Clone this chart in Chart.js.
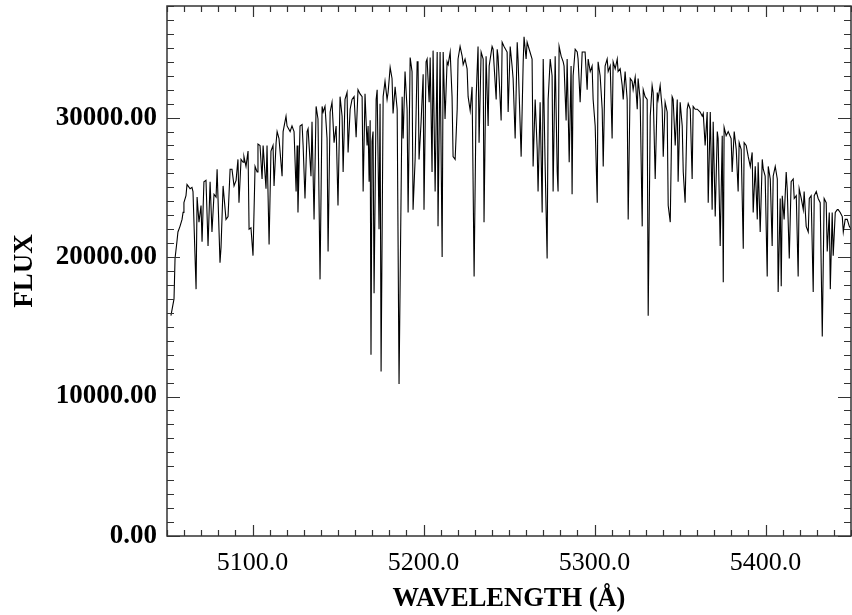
<!DOCTYPE html>
<html>
<head>
<meta charset="utf-8">
<title>Flux vs wavelength</title>
<script src="https://cdn.jsdelivr.net/npm/chart.js@4/dist/chart.umd.min.js"></script>
<style>
  html, body { margin: 0; padding: 0; background: #fff; }
  #wrap { width: 852px; height: 615px; }
</style>
</head>
<body>
<div id="wrap"><canvas id="spectrum" width="852" height="615"></canvas></div>
<script>
// wavelength (Angstrom) and flux of the spectrum, in order
const wavelength = [
  5052.3, 5054.1, 5054.7, 5055.8, 5056.4, 5057.6, 5058.8, 5059.4, 5059.9, 5061.1,
  5061.7, 5062.3, 5063.5, 5064.6, 5065.2, 5067.0, 5067.6, 5068.7, 5069.9, 5070.5,
  5071.6, 5072.8, 5074.0, 5075.2, 5076.3, 5077.5, 5078.7, 5079.3, 5081.0, 5081.6,
  5082.8, 5084.5, 5085.7, 5086.9, 5088.0, 5089.2, 5090.4, 5091.5, 5092.1, 5093.3,
  5094.5, 5095.0, 5096.2, 5097.4, 5098.0, 5099.1, 5100.3, 5101.5, 5102.7, 5103.2,
  5104.4, 5105.6, 5106.2, 5107.9, 5108.5, 5109.7, 5110.8, 5112.0, 5112.6, 5113.8,
  5114.4, 5115.5, 5117.3, 5117.9, 5119.6, 5120.2, 5122.0, 5123.1, 5124.3, 5125.5,
  5126.1, 5126.6, 5127.8, 5129.0, 5129.6, 5130.7, 5131.9, 5132.5, 5134.2, 5134.8,
  5136.0, 5137.2, 5138.3, 5139.5, 5140.7, 5141.3, 5142.4, 5143.6, 5144.2, 5145.4,
  5146.5, 5147.7, 5148.9, 5150.0, 5151.2, 5152.4, 5153.0, 5154.1, 5155.3, 5155.9,
  5157.1, 5158.2, 5159.4, 5160.6, 5161.7, 5162.9, 5164.1, 5164.7, 5165.8, 5167.0,
  5167.6, 5168.2, 5168.8, 5169.3, 5169.9, 5170.5, 5171.1, 5172.3, 5172.9, 5174.0,
  5174.6, 5175.2, 5176.4, 5177.5, 5178.7, 5179.3, 5180.5, 5181.6, 5182.2, 5183.4,
  5184.6, 5185.7, 5187.5, 5188.1, 5189.2, 5190.4, 5191.0, 5192.2, 5193.3, 5193.9,
  5195.1, 5196.3, 5196.8, 5197.4, 5198.6, 5199.8, 5200.3, 5201.5, 5202.1, 5203.3,
  5203.9, 5205.0, 5205.6, 5206.8, 5208.0, 5208.5, 5209.7, 5210.9, 5211.5, 5212.6,
  5213.8, 5214.4, 5215.6, 5216.7, 5217.3, 5218.5, 5219.7, 5220.2, 5221.4, 5222.6,
  5223.2, 5224.3, 5225.5, 5226.1, 5227.3, 5228.4, 5229.6, 5230.8, 5231.9, 5232.5,
  5233.7, 5234.9, 5235.4, 5236.6, 5237.8, 5238.4, 5240.1, 5240.7, 5242.5, 5243.1,
  5243.6, 5245.4, 5246.0, 5247.1, 5248.9, 5249.5, 5250.7, 5251.8, 5252.4, 5253.6,
  5254.8, 5255.3, 5257.1, 5258.3, 5258.8, 5260.0, 5260.6, 5261.8, 5263.5, 5264.1,
  5265.3, 5266.5, 5267.0, 5268.2, 5269.4, 5270.0, 5271.1, 5272.3, 5272.9, 5274.1,
  5275.2, 5275.8, 5277.0, 5278.2, 5278.7, 5279.3, 5280.5, 5281.7, 5282.2, 5283.4,
  5284.0, 5285.2, 5286.3, 5286.9, 5287.5, 5288.7, 5289.9, 5290.4, 5291.6, 5292.8,
  5294.5, 5295.7, 5296.3, 5297.5, 5298.6, 5299.2, 5300.4, 5301.6, 5302.1, 5303.3,
  5304.5, 5305.1, 5306.2, 5307.4, 5308.0, 5309.2, 5310.3, 5310.9, 5312.1, 5313.3,
  5313.8, 5315.0, 5316.2, 5316.8, 5317.9, 5319.1, 5319.7, 5320.9, 5322.0, 5322.6,
  5323.8, 5325.0, 5325.5, 5326.7, 5327.9, 5328.5, 5329.6, 5330.8, 5331.4, 5332.6,
  5333.7, 5334.3, 5335.5, 5336.7, 5337.2, 5338.4, 5339.6, 5340.2, 5341.3, 5342.5,
  5343.1, 5344.3, 5345.4, 5346.0, 5347.2, 5348.4, 5348.9, 5350.1, 5351.3, 5351.9,
  5353.0, 5354.2, 5354.8, 5356.0, 5357.1, 5357.7, 5358.9, 5360.1, 5361.8, 5363.0,
  5363.6, 5364.7, 5365.9, 5366.5, 5367.7, 5368.8, 5369.4, 5370.6, 5371.8, 5372.3,
  5373.5, 5374.7, 5375.3, 5375.8, 5377.0, 5378.2, 5379.9, 5380.5, 5381.7, 5382.9,
  5384.0, 5384.6, 5385.8, 5387.0, 5387.5, 5388.7, 5389.9, 5391.1, 5392.2, 5392.8,
  5394.0, 5395.2, 5395.7, 5396.9, 5398.1, 5398.7, 5399.8, 5401.0, 5401.6, 5402.8,
  5403.9, 5404.5, 5405.7, 5406.9, 5407.4, 5408.6, 5409.2, 5409.8, 5410.9, 5412.1,
  5412.7, 5413.9, 5415.0, 5416.2, 5416.8, 5418.0, 5419.1, 5419.7, 5420.9, 5422.1,
  5422.6, 5423.8, 5425.0, 5425.6, 5426.7, 5427.9, 5428.5, 5429.7, 5430.8, 5432.0,
  5433.2, 5434.3, 5435.5, 5436.1, 5437.3, 5437.9, 5439.0, 5439.6, 5440.8, 5442.0,
  5442.5, 5443.7, 5444.9, 5445.5, 5446.6, 5447.8, 5449.0, 5450.1
];

const flux = [
  15800, 17000, 19900, 21100, 21800, 22200, 22700, 23200, 23900, 24400,
  25200, 25100, 24900, 25000, 24700, 17700, 24300, 22500, 23700, 21100,
  25400, 25500, 20800, 25400, 21800, 24500, 24300, 26300, 19600, 20700,
  25100, 22700, 22900, 26300, 26300, 25100, 25500, 27000, 23900, 27000,
  26800, 27200, 26500, 27600, 22000, 22100, 20100, 26500, 26100, 28100,
  28000, 25600, 28000, 24900, 28000, 20900, 27600, 28000, 25100, 28200,
  29000, 28500, 25800, 29000, 30100, 29400, 29000, 29400, 29000, 24700,
  28000, 23200, 29400, 29500, 28000, 24200, 29000, 29200, 25800, 29700,
  22700, 30800, 29900, 18400, 30800, 30400, 30800, 28500, 20400, 30400,
  31100, 28200, 29400, 23700, 31500, 30100, 26100, 31300, 31800, 27500,
  30600, 31300, 31500, 28600, 32000, 31700, 31500, 24700, 31700, 28000,
  29400, 25400, 29800, 13000, 28300, 29000, 17400, 31300, 32000, 22000,
  31000, 11800, 31500, 32600, 31300, 31800, 33600, 32800, 30300, 32200,
  30600, 10900, 31500, 28500, 33300, 30600, 23200, 34300, 33300, 23400,
  27000, 34000, 34000, 27000, 29700, 33100, 23400, 34000, 34200, 31100,
  34300, 26100, 34800, 24700, 34700, 22200, 34700, 20000, 34700, 29900,
  34000, 33800, 34700, 31500, 27200, 27000, 30600, 34200, 35100, 34400,
  33800, 34200, 33500, 31500, 30500, 32200, 18600, 31500, 35100, 28200,
  34700, 34200, 22500, 34400, 29400, 33700, 35100, 34900, 31300, 34900,
  34400, 29800, 35400, 35100, 34700, 30400, 35100, 33700, 32800, 28500,
  35400, 34200, 27200, 34000, 35800, 34200, 35400, 34900, 34200, 26500,
  31300, 27700, 24700, 31100, 23200, 34200, 26800, 19900, 31300, 34200,
  33000, 24700, 34400, 26100, 24700, 35100, 34400, 34000, 33700, 29800,
  34200, 26800, 33700, 24500, 33000, 34900, 34700, 34200, 31100, 34700,
  34700, 32000, 34200, 33300, 33700, 31300, 29400, 23900, 34000, 33000,
  30600, 26500, 33700, 34200, 33300, 33700, 28500, 34000, 33500, 34200,
  33300, 33500, 32300, 31300, 33300, 31300, 22700, 32800, 32600, 32000,
  32900, 30600, 32800, 31300, 22200, 32000, 31500, 31300, 15800, 30100,
  32300, 31800, 25600, 31800, 31300, 32300, 30600, 27200, 31100, 30400,
  23700, 22500, 31500, 31300, 28000, 31300, 25400, 31100, 29400, 26100,
  23900, 30600, 31000, 30600, 25600, 30800, 30600, 30600, 30400, 30100,
  30300, 28000, 30400, 23900, 30400, 23400, 29700, 22900, 29000, 28500,
  20800, 28700, 18200, 29300, 28700, 29000, 28500, 26100, 29000, 27700,
  24700, 28200, 27700, 20600, 28200, 28000, 27200, 26500, 27500, 23200,
  26500, 22700, 26800, 21800, 27000, 26300, 25800, 18600, 26500, 25600,
  20800, 25800, 26500, 25600, 17500, 24200, 17900, 24400, 22700, 26100,
  24900, 19900, 25400, 25600, 24200, 24400, 18600, 24900, 24200, 23400,
  24700, 22200, 21800, 24200, 24400, 17500, 24400, 24700, 24200, 23900,
  14300, 24200, 23900, 20400, 23200, 17700, 23200, 20100, 23200, 23400,
  23400, 23200, 22900, 21800, 22700, 22700, 22200, 22000
];

// axis ranges and labelled ticks
const xRange = [5050, 5450];
const yRange = [0, 38000];
const xTickValues = [5100, 5200, 5300, 5400];
const yTickValues = [0, 10000, 20000, 30000];
const xMinorStep = 10;
const yMinorStep = 1000;

const serif = "'Liberation Serif', 'Times New Roman', serif";

// box around the plot with inward ticks on all four sides
const frameTicks = {
  id: 'frameTicks',
  afterDraw(chart) {
    const { ctx, chartArea: a } = chart;
    const xs = chart.scales.x, ys = chart.scales.y;
    ctx.save();
    ctx.strokeStyle = '#333';
    ctx.lineWidth = 1.5;
    ctx.strokeRect(a.left, a.top, a.right - a.left, a.bottom - a.top);
    ctx.lineWidth = 1.2;
    ctx.beginPath();
    for (let v = xRange[0]; v <= xRange[1]; v += xMinorStep) {
      const px = Math.round(xs.getPixelForValue(v)) + 0.5;
      const len = v % 100 === 0 ? 11 : 6;
      ctx.moveTo(px, a.bottom); ctx.lineTo(px, a.bottom - len);
      ctx.moveTo(px, a.top); ctx.lineTo(px, a.top + len);
    }
    for (let v = yRange[0]; v <= yRange[1]; v += yMinorStep) {
      const py = Math.round(ys.getPixelForValue(v)) + 0.5;
      const len = v % 10000 === 0 ? 13 : 7;
      ctx.moveTo(a.left, py); ctx.lineTo(a.left + len, py);
      ctx.moveTo(a.right, py); ctx.lineTo(a.right - len, py);
    }
    ctx.stroke();
    ctx.restore();
  }
};

const points = wavelength.map((w, i) => ({ x: w, y: flux[i] }));

new Chart(document.getElementById('spectrum').getContext('2d'), {
  type: 'line',
  data: {
    datasets: [{
      data: points,
      borderColor: '#000',
      borderWidth: 1.1,
      pointRadius: 0,
      tension: 0,
      fill: false
    }]
  },
  options: {
    responsive: false,
    animation: false,
    events: [],
    layout: { padding: { top: 6, right: 1, left: 0, bottom: 0 } },
    plugins: { legend: { display: false }, tooltip: { enabled: false } },
    scales: {
      x: {
        type: 'linear',
        min: xRange[0],
        max: xRange[1],
        afterBuildTicks: s => { s.ticks = xTickValues.map(v => ({ value: v })); },
        afterFit: s => { s.height = 79; s.paddingLeft = 0; s.paddingRight = 0; },
        grid: { display: false, drawTicks: false },
        border: { display: false },
        ticks: {
          autoSkip: false,
          maxRotation: 0,
          padding: 12,
          color: '#000',
          font: { family: serif, size: 26 },
          callback: v => v.toFixed(1)
        },
        title: {
          display: true,
          text: 'WAVELENGTH (Å)',
          color: '#000',
          font: { family: serif, size: 26.5, weight: 'bold' },
          padding: { top: 0, bottom: 0 }
        }
      },
      y: {
        type: 'linear',
        min: yRange[0],
        max: yRange[1],
        afterBuildTicks: s => { s.ticks = yTickValues.map(v => ({ value: v })); },
        afterFit: s => { s.width = 167; s.paddingTop = 0; s.paddingBottom = 0; },
        grid: { display: false, drawTicks: false },
        border: { display: false },
        ticks: {
          padding: 10,
          color: '#000',
          font: { family: serif, size: 27, weight: 'bold' },
          callback: v => v.toFixed(2)
        },
        title: {
          display: true,
          text: 'FLUX',
          color: '#000',
          font: { family: serif, size: 27, weight: 'bold' },
          padding: { top: 9, bottom: 0 }
        }
      }
    }
  },
  plugins: [frameTicks]
});
</script>
</body>
</html>
